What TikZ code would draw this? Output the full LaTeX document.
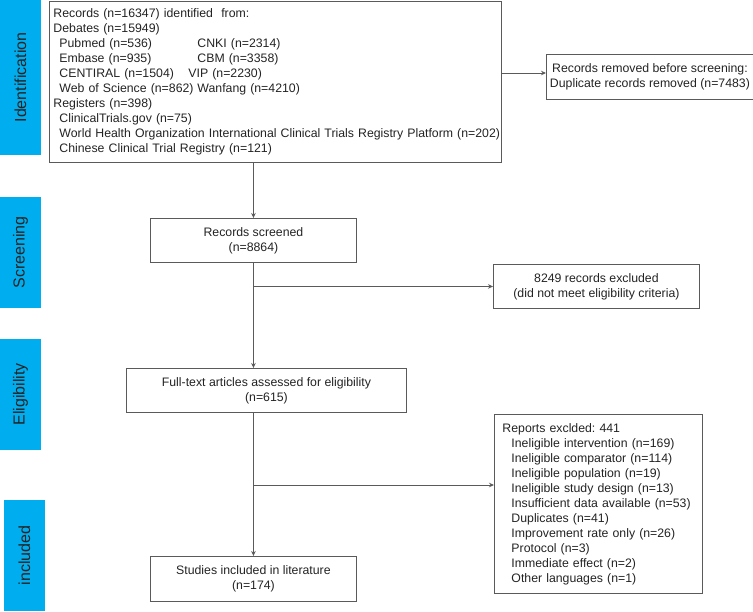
\documentclass[tikz,border=0pt]{standalone}
\usepackage{fontspec}
\setmainfont{Liberation Sans}
\usetikzlibrary{arrows.meta}
\definecolor{tabblue}{RGB}{0,174,239}
\definecolor{boxgray}{RGB}{90,90,90}
\definecolor{txtgray}{RGB}{35,35,35}
\frenchspacing

\begin{document}
\begin{tikzpicture}[x=1pt,y=-1pt,
  box/.style={draw=boxgray,line width=0.9pt,inner sep=0pt,anchor=north west,text=txtgray,font=\fontsize{12.3}{15}\selectfont},
  arr/.style={draw=boxgray,line width=0.9pt,-{Stealth[length=5pt,width=4.5pt]}}]
\useasboundingbox (0,0) rectangle (753,611);
% stage tabs on the left
\foreach \xa/\ya/\h/\tabname/\lab in {0/0/155/ident/Identification,0/197/111/screen/Screening,0/339/111/elig/Eligibility,4/500/111/incl/included}{
\fill[tabblue] (\xa,\ya) rectangle ++(41,\h) node (\tabname) [midway,rotate=90,text=txtgray,font=\fontsize{16}{16}\selectfont] {\lab};
}
% boxes
\node[box,text width=444pt,inner xsep=4pt,minimum height=161pt,align=left] (records) at (49,1) {Records (n=16347) identified\ \ from:\\
Debates (n=15949)\\
\hspace*{6pt}\makebox[138pt][l]{Pubmed (n=536)}CNKI (n=2314)\\
\hspace*{6pt}\makebox[138pt][l]{Embase (n=935)}CBM (n=3358)\\
\hspace*{6pt}\makebox[129pt][l]{CENTIRAL (n=1504)}VIP (n=2230)\\
\hspace*{6pt}\makebox[138pt][l]{Web of Science (n=862)}Wanfang (n=4210)\\
Registers (n=398)\\
\hspace*{6pt}ClinicalTrials.gov (n=75)\\
\hspace*{6pt}\makebox[0pt][l]{World Health Organization International Clinical Trials Registry Platform (n=202)}\\
\hspace*{6pt}Chinese Clinical Trial Registry (n=121)};
\node[box,minimum width=207pt,minimum height=45pt,align=center] (removed) at (546,54) {Records removed before screening:\\Duplicate records removed (n=7483)};
\node[box,minimum width=206pt,minimum height=44pt,align=center] (screened) at (150,218) {Records screened\\(n=8864)};
\node[box,minimum width=206pt,minimum height=44pt,align=center] (excluded) at (493,264) {8249 records excluded\\(did not meet eligibility criteria)};
\node[box,minimum width=280pt,minimum height=44pt,align=center] (fulltext) at (126,368) {Full-text articles assessed for eligibility\\(n=615)};
\node[box,text width=192pt,inner xsep=8pt,minimum height=179pt,align=left] (reports) at (494,414) {Reports exclded: 441\\
\hspace*{9pt}Ineligible intervention (n=169)\\
\hspace*{9pt}Ineligible comparator (n=114)\\
\hspace*{9pt}Ineligible population (n=19)\\
\hspace*{9pt}Ineligible study design (n=13)\\
\hspace*{9pt}Insufficient data available (n=53)\\
\hspace*{9pt}Duplicates (n=41)\\
\hspace*{9pt}Improvement rate only (n=26)\\
\hspace*{9pt}Protocol (n=3)\\
\hspace*{9pt}Immediate effect (n=2)\\
\hspace*{9pt}Other languages (n=1)};
\node[box,minimum width=206pt,minimum height=45pt,align=center] (studies) at (150,556) {Studies included in literature\\(n=174)};
% connectors
\coordinate (dup) at (records.east |- 0,73);
\coordinate (split) at (screened.south |- 0,485);
\draw[arr] (records.south -| screened.north) -- (screened.north);
\draw[arr] (dup) -- (dup -| removed.west);
\draw[arr] (screened.south) -- (screened.south |- fulltext.north);
\draw[arr] (screened.south |- excluded.west) -- (excluded.west);
\draw[arr] (fulltext.south -| studies.north) -- (studies.north);
\draw[arr] (split) -- (split -| reports.west);
\end{tikzpicture}
\end{document}
